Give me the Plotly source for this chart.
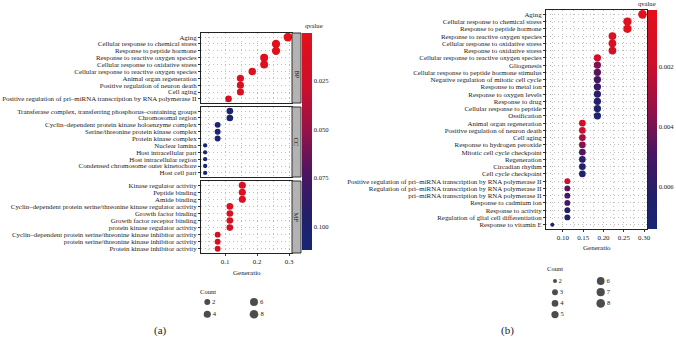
import plotly.graph_objects as go

W, H = 676, 339
FONT = "Liberation Serif"

# ---------------- Panel (a) data ----------------
bp_terms = ["Aging", "Cellular response to chemical stress", "Response to peptide hormone",
            "Response to reactive oxygen species", "Cellular response to oxidative stress",
            "Cellular response to reactive oxygen species", "Animal organ regeneration",
            "Positive regulation of neuron death", "Cell aging",
            "Positive regulation of pri\u2013miRNA transcription by RNA polymerase II"]
bp_ratio = [0.296, 0.259, 0.259, 0.222, 0.222, 0.185, 0.148, 0.148, 0.148, 0.111]
bp_count = [8, 7, 7, 6, 6, 5, 4, 4, 4, 3]
bp_q = [0.0004, 0.004, 0.005, 0.006, 0.007, 0.009, 0.011, 0.012, 0.013, 0.016]

cc_terms = ["Transferase complex, transferring phosphorus\u2013containing groups", "Chromosomal region",
            "Cyclin\u2013dependent protein kinase holoenzyme complex", "Serine/threonine protein kinase complex",
            "Protein kinase complex", "Nuclear lamina", "Host intracellular part",
            "Host intracellular region", "Condensed chromosome outer kinetochore", "Host cell part"]
cc_ratio = [0.115, 0.115, 0.077, 0.077, 0.077, 0.038, 0.038, 0.038, 0.038, 0.038]
cc_count = [3, 3, 2, 2, 2, 1, 1, 1, 1, 1]
cc_q = [0.104, 0.105, 0.107, 0.108, 0.108, 0.111, 0.111, 0.112, 0.112, 0.112]

mf_terms = ["Kinase regulator activity", "Peptide binding", "Amide binding",
            "Cyclin\u2013dependent protein serine/threonine kinase regulator activity",
            "Growth factor binding", "Growth factor receptor binding", "protein kinase regulator activity",
            "Cyclin\u2013dependent protein serine/threonine kinase inhibitor activity",
            "protein serine/threonine kinase inhibitor activity", "Protein kinase inhibitor activity"]
mf_ratio = [0.154, 0.154, 0.154, 0.115, 0.115, 0.115, 0.115, 0.077, 0.077, 0.077]
mf_count = [4, 4, 4, 3, 3, 3, 3, 2, 2, 2]
mf_q = [0.010, 0.011, 0.011, 0.012, 0.013, 0.013, 0.014, 0.015, 0.016, 0.016]

facet_names = ["BP", "CC", "MF"]
legend_a_counts = [2, 4, 6, 8]

# ---------------- Panel (b) data ----------------
b_terms = ["Aging", "Cellular response to chemical stress", "Response to peptide hormone",
           "Response to reactive oxygen species", "Cellular response to oxidative stress",
           "Response to oxidative stress", "Cellular response to reactive oxygen species",
           "Gliogenesis", "Cellular response to peptide hormone stimulus",
           "Negative regulation of mitotic cell cycle", "Response to metal ion",
           "Response to oxygen levels", "Response to drug", "Cellular response to peptide",
           "Ossification", "Animal organ regeneration", "Positive regulation of neuron death",
           "Cell aging", "Response to hydrogen peroxide", "Mitotic cell cycle checkpoint",
           "Regeneration", "Circadian rhythm", "Cell cycle checkpoint",
           "Positive regulation of pri\u2013miRNA transcription by RNA polymerase II",
           "Regulation of pri\u2013miRNA transcription by RNA polymerase II",
           "pri\u2013miRNA transcription by RNA polymerase II", "Response to cadmium ion",
           "Response to activity", "Regulation of glial cell differentiation", "Response to vitamin E"]
b_ratio = [0.296, 0.259, 0.259, 0.222, 0.222, 0.222, 0.185, 0.185, 0.185, 0.185, 0.185, 0.185,
           0.185, 0.185, 0.185, 0.148, 0.148, 0.148, 0.148, 0.148, 0.148, 0.148, 0.148,
           0.111, 0.111, 0.111, 0.111, 0.111, 0.111, 0.074]
b_count = [8, 7, 7, 6, 6, 6, 5, 5, 5, 5, 5, 5, 5, 5, 5, 4, 4, 4, 4, 4, 4, 4, 4, 3, 3, 3, 3, 3, 3, 2]
b_q = [0.0001, 0.0003, 0.0004, 0.0008, 0.0009, 0.0013, 0.0014, 0.0038, 0.0046, 0.0050, 0.0056,
       0.0061, 0.0065, 0.0068, 0.0070, 0.0014, 0.0019, 0.0030, 0.0037, 0.0047, 0.0060, 0.0065,
       0.0069, 0.0016, 0.0045, 0.0048, 0.0052, 0.0062, 0.0066, 0.0074]
legend_b_counts = [2, 3, 4, 5, 6, 7, 8]

# colour scale (index 0 = largest qvalue = navy, 1 = smallest = red)
cscale = [[0.0, "#182676"], [0.15, "#22206A"], [0.35, "#4A1562"], [0.55, "#961248"],
          [0.75, "#CC0F2C"], [1.0, "#E4101A"]]


def px_x(p):
    return p / W


def px_y(p):
    return 1 - p / H


def size_map(counts, cmin, cmax, dmin, dmax):
    return [dmin + (dmax - dmin) * ((c - cmin) / (cmax - cmin)) ** 0.5 for c in counts]


fig = go.Figure()

# ---- geometry (pixels) ----
A_X = (201, 292)
A_Y = [(33, 103), (107, 177), (181, 253)]
B_X = (546, 647)
B_Y = (10, 229)

all_a_ratio = bp_ratio + cc_ratio + mf_ratio
span = max(all_a_ratio) - min(all_a_ratio)
xr_a = [min(all_a_ratio) - 0.05 * span, max(all_a_ratio) + 0.05 * span]
span_b = max(b_ratio) - min(b_ratio)
xr_b = [min(b_ratio) - 0.07 * span_b, max(b_ratio) + 0.05 * span_b]

a_all_counts = bp_count + cc_count + mf_count
a_cmin, a_cmax = min(a_all_counts), max(a_all_counts)
all_a_q = bp_q + cc_q + mf_q

LBL = 6.9
grid = "#BDBDBD"
axis_common = dict(showline=True, mirror=True, linecolor="#222", linewidth=1,
                   gridcolor=grid, griddash="1px,3px", gridwidth=1, zeroline=False,
                   automargin=False, tickfont=dict(family=FONT, size=LBL, color="#1a1a1a"))

facets = [(bp_terms, bp_ratio, bp_count, bp_q), (cc_terms, cc_ratio, cc_count, cc_q),
          (mf_terms, mf_ratio, mf_count, mf_q)]
for i, (terms, ratio, count, q) in enumerate(facets):
    k = i + 1
    xa = "x" if k == 1 else f"x{k}"
    ya = "y" if k == 1 else f"y{k}"
    fig.add_trace(go.Scatter(
        x=ratio, y=terms, mode="markers", xaxis=xa, yaxis=ya, showlegend=False,
        marker=dict(size=size_map(count, a_cmin, a_cmax, 4.3, 8.6), color=[-v for v in q],
                    coloraxis="coloraxis", line=dict(width=0), opacity=1),
        hoverinfo="x+y"))
    y0, y1 = A_Y[i]
    n = len(terms)
    xkey = "xaxis" if k == 1 else f"xaxis{k}"
    ykey = "yaxis" if k == 1 else f"yaxis{k}"
    fig.update_layout(**{
        xkey: dict(axis_common, domain=[px_x(A_X[0]), px_x(A_X[1])], anchor=ya, range=xr_a,
                   dtick=0.1, tick0=0, showticklabels=(k == 3), ticks="outside" if k == 3 else "",
                   ticklen=2, tickcolor="#333",
                   minor=dict(dtick=0.05, showgrid=True, gridcolor=grid, griddash="1px,3px")),
        ykey: dict(axis_common, domain=[px_y(y1), px_y(y0)], anchor=xa, type="category",
                   categoryorder="array", categoryarray=terms, range=[n - 1 + 0.6, -0.6],
                   tickmode="array", tickvals=terms, ticktext=terms,
                   ticks="outside", ticklen=2, tickcolor="#333"),
    })
    # strip
    fig.add_shape(type="rect", xref="paper", yref="paper",
                  x0=px_x(A_X[1]), x1=px_x(A_X[1] + 9), y0=px_y(y1), y1=px_y(y0),
                  fillcolor="#B3B3B3", line=dict(color="#333", width=1))
    fig.add_annotation(x=px_x(A_X[1] + 4.5), y=px_y((y0 + y1) / 2), xref="paper", yref="paper",
                       text=facet_names[i], textangle=90, showarrow=False,
                       font=dict(family=FONT, size=6.5, color="#111"))

# Panel (b)
b_cmin, b_cmax = min(b_count), max(b_count)
fig.add_trace(go.Scatter(
    x=b_ratio, y=b_terms, mode="markers", xaxis="x4", yaxis="y4", showlegend=False,
    marker=dict(size=size_map(b_count, b_cmin, b_cmax, 4.0, 8.6), color=[-v for v in b_q],
                coloraxis="coloraxis2", line=dict(width=0), opacity=1),
    hoverinfo="x+y"))
nb = len(b_terms)
fig.update_layout(
    xaxis4=dict(axis_common, domain=[px_x(B_X[0]), px_x(B_X[1])], anchor="y4", range=xr_b,
                dtick=0.05, tick0=0, tickformat=".2f", ticks="outside", ticklen=2, tickcolor="#333",
                minor=dict(dtick=0.025, showgrid=True, gridcolor=grid, griddash="1px,3px")),
    yaxis4=dict(axis_common, domain=[px_y(B_Y[1]), px_y(B_Y[0])], anchor="x4", type="category",
                categoryorder="array", categoryarray=b_terms, range=[nb - 1 + 0.6, -0.6],
                tickmode="array", tickvals=b_terms, ticktext=b_terms,
                ticks="outside", ticklen=2, tickcolor="#333"),
)

# colour axes (negated q so that small q sits at top)
a_ticks = [0.025, 0.050, 0.075, 0.100]
b_ticks = [0.002, 0.004, 0.006]
cb_font = dict(family=FONT, size=6.6, color="#222")
fig.update_layout(
    coloraxis=dict(colorscale=cscale, cmin=-max(all_a_q), cmax=-min(all_a_q),
                   colorbar=dict(x=px_x(302), xanchor="left", xpad=0, ypad=0, thickness=10,
                                 y=px_y(33), yanchor="top", len=(250 - 33) / H, lenmode="fraction",
                                 outlinewidth=0, ticks="", tickvals=[-v for v in a_ticks],
                                 ticktext=[f"{v:.3f}" for v in a_ticks], tickfont=cb_font,
                                 title=dict(text=""))),
    coloraxis2=dict(colorscale=cscale, cmin=-max(b_q), cmax=-min(b_q),
                    colorbar=dict(x=px_x(648), xanchor="left", xpad=0, ypad=0, thickness=9,
                                  y=px_y(10), yanchor="top", len=(229 - 10) / H, lenmode="fraction",
                                  outlinewidth=0, ticks="", tickvals=[-v for v in b_ticks],
                                  ticktext=[f"{v:.3f}" for v in b_ticks], tickfont=cb_font,
                                  title=dict(text=""))),
)

# size legends on a full-figure pixel overlay axis
def legend_layout(counts, rows, bx, by, dx, dy):
    xs = [bx + (i // rows) * dx for i in range(len(counts))]
    ys = [by + (i % rows) * dy for i in range(len(counts))]
    return xs, ys

lxa, lya = legend_layout(legend_a_counts, 2, 207.3, 302, 46.7, 12.3)
lxb, lyb = legend_layout(legend_b_counts, 4, 555, 281, 45.7, 11.2)
fig.add_trace(go.Scatter(x=lxa, y=lya, mode="markers+text", xaxis="x5", yaxis="y5", showlegend=False,
                         text=[str(c) for c in legend_a_counts], textposition="middle right",
                         textfont=dict(family=FONT, size=6.6, color="#222"),
                         marker=dict(size=size_map(legend_a_counts, a_cmin, a_cmax, 4.3, 8.6),
                                     color="black", line=dict(width=0)), hoverinfo="skip"))
fig.add_trace(go.Scatter(x=lxb, y=lyb, mode="markers+text", xaxis="x5", yaxis="y5", showlegend=False,
                         text=[str(c) for c in legend_b_counts], textposition="middle right",
                         textfont=dict(family=FONT, size=6.6, color="#222"),
                         marker=dict(size=size_map(legend_b_counts, b_cmin, b_cmax, 4.0, 8.6),
                                     color="black", line=dict(width=0)), hoverinfo="skip"))
fig.update_layout(
    xaxis5=dict(domain=[0, 1], range=[0, W], visible=False, anchor="y5", fixedrange=True),
    yaxis5=dict(domain=[0, 1], range=[H, 0], visible=False, anchor="x5", fixedrange=True),
)

def text_ann(px, py, s, size=7, xanchor="center"):
    fig.add_annotation(x=px_x(px), y=px_y(py), xref="paper", yref="paper", text=s,
                       showarrow=False, xanchor=xanchor, yanchor="middle",
                       font=dict(family=FONT, size=size, color="#222"))

text_ann(246.5, 273, "Generatio", 7)
text_ann(596.5, 248, "Generatio", 7)
text_ann(303, 25, "qvalue", 6.6, "left")
text_ann(647, 3.5, "qvalue", 6.6, "center")
text_ann(198, 291, "Count", 6.6, "left")
text_ann(545, 268, "Count", 6.6, "left")
text_ann(160, 330, "(a)", 11)
text_ann(508, 330, "(b)", 11)

fig.update_layout(width=W, height=H, margin=dict(l=0, r=0, t=0, b=0),
                  paper_bgcolor="white", plot_bgcolor="rgba(0,0,0,0)", showlegend=False,
                  font=dict(family=FONT, color="#222"))

fig.write_html("out.html", config={"displayModeBar": False},
               post_script="document.body.style.margin='0px';document.body.style.padding='0px';")
